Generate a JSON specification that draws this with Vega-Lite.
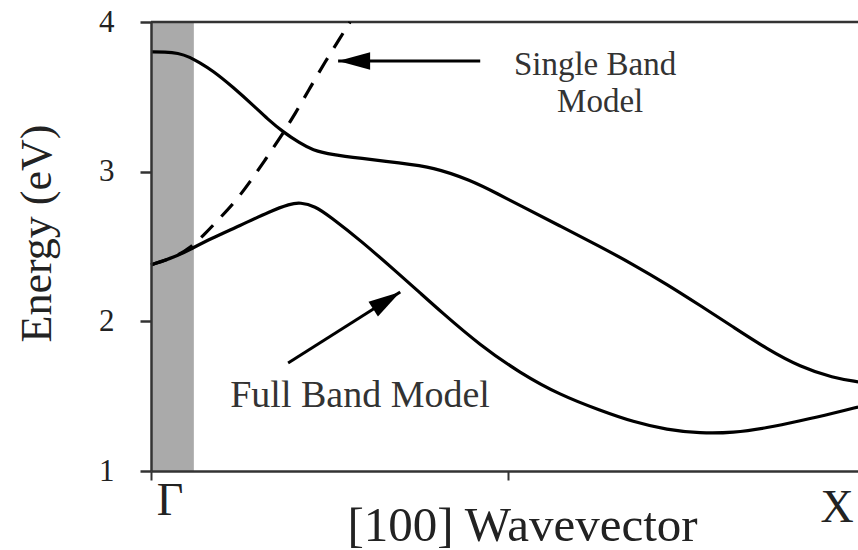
{
  "$schema": "https://vega.github.io/schema/vega-lite/v6.json",
  "width": 707,
  "height": 449,
  "autosize": {"type": "none"},
  "padding": {"left": 151, "top": 22, "right": 0, "bottom": 79},
  "background": "white",
  "config": {"view": {"stroke": null}, "font": "Liberation Serif"},
  "datasets": {
    "upper": [
      {"k": 0, "E": 3.80}, {"k": 0.0196, "E": 3.80}, {"k": 0.0378, "E": 3.793}, {"k": 0.0546, "E": 3.766},
      {"k": 0.0686, "E": 3.726}, {"k": 0.0854, "E": 3.679}, {"k": 0.1148, "E": 3.566}, {"k": 0.1457, "E": 3.432},
      {"k": 0.1625, "E": 3.355}, {"k": 0.1849, "E": 3.265}, {"k": 0.2087, "E": 3.19}, {"k": 0.2255, "E": 3.145},
      {"k": 0.2549, "E": 3.112}, {"k": 0.2927, "E": 3.09}, {"k": 0.3487, "E": 3.058}, {"k": 0.395, "E": 3.03},
      {"k": 0.4468, "E": 2.945}, {"k": 0.4888, "E": 2.844}, {"k": 0.5168, "E": 2.774}, {"k": 0.5728, "E": 2.637},
      {"k": 0.6289, "E": 2.5}, {"k": 0.6751, "E": 2.38}, {"k": 0.7227, "E": 2.247}, {"k": 0.7689, "E": 2.106},
      {"k": 0.8151, "E": 1.963}, {"k": 0.8627, "E": 1.815}, {"k": 0.909, "E": 1.696}, {"k": 0.9552, "E": 1.622},
      {"k": 0.9902, "E": 1.596}
    ],
    "lower": [
      {"k": 0, "E": 2.377}, {"k": 0.0336, "E": 2.43}, {"k": 0.0546, "E": 2.48}, {"k": 0.0826, "E": 2.55},
      {"k": 0.1246, "E": 2.64}, {"k": 0.1667, "E": 2.735}, {"k": 0.1947, "E": 2.785}, {"k": 0.2087, "E": 2.795},
      {"k": 0.2297, "E": 2.77}, {"k": 0.2507, "E": 2.7}, {"k": 0.2927, "E": 2.544}, {"k": 0.3487, "E": 2.31},
      {"k": 0.3768, "E": 2.19}, {"k": 0.4048, "E": 2.07}, {"k": 0.4608, "E": 1.84}, {"k": 0.5168, "E": 1.655},
      {"k": 0.5728, "E": 1.508}, {"k": 0.6289, "E": 1.405}, {"k": 0.6751, "E": 1.328}, {"k": 0.7227, "E": 1.275},
      {"k": 0.7689, "E": 1.252}, {"k": 0.8151, "E": 1.255}, {"k": 0.8627, "E": 1.288}, {"k": 0.909, "E": 1.335},
      {"k": 0.9552, "E": 1.385}, {"k": 0.9902, "E": 1.428}
    ],
    "single": [
      {"k": 0, "E": 2.377}, {"k": 0.0336, "E": 2.43}, {"k": 0.0546, "E": 2.49}, {"k": 0.0756, "E": 2.584},
      {"k": 0.0966, "E": 2.691}, {"k": 0.1176, "E": 2.798}, {"k": 0.1387, "E": 2.931}, {"k": 0.1597, "E": 3.078},
      {"k": 0.1807, "E": 3.225}, {"k": 0.2017, "E": 3.386}, {"k": 0.2227, "E": 3.56}, {"k": 0.2437, "E": 3.733},
      {"k": 0.2647, "E": 3.893}, {"k": 0.2787, "E": 4.0}
    ]
  },
  "layer": [
    {
      "data": {"values": [{"k0": 0, "k1": 0.06, "E0": 1, "E1": 4}]},
      "mark": {"type": "rect", "color": "#aaaaaa"},
      "encoding": {
        "x": {
          "field": "k0", "type": "quantitative",
          "scale": {"domain": [0, 0.99], "nice": false, "zero": false},
          "axis": {
            "values": [0, 0.5], "labels": false, "grid": false, "tickSize": 9, "tickWidth": 2,
            "tickColor": "#333", "domainColor": "#333", "domainWidth": 2.5, "zindex": 1,
            "title": "[100] Wavevector", "titleFont": "Liberation Serif", "titleFontSize": 49,
            "titleFontWeight": "normal", "titleColor": "#222", "titleX": 371, "titleY": 69,
            "titleBaseline": "alphabetic", "titleAlign": "center"
          }
        },
        "x2": {"field": "k1"},
        "y": {
          "field": "E0", "type": "quantitative",
          "scale": {"domain": [1, 4], "nice": false, "zero": false},
          "axis": {
            "values": [1, 2, 3, 4], "format": "d", "grid": false, "tickSize": 11, "tickWidth": 2.5, "tickColor": "#333",
            "domainColor": "#333", "domainWidth": 2.5, "zindex": 1, "labelFont": "Liberation Serif",
            "labelFontSize": 31, "labelColor": "#222", "labelPadding": 26,
            "title": "Energy (eV)", "titleFont": "Liberation Serif", "titleFontSize": 44,
            "titleFontWeight": "normal", "titleColor": "#222", "titleX": -101, "titleY": 211,
            "titleAngle": 270, "titleBaseline": "alphabetic", "titleAlign": "center"
          }
        },
        "y2": {"field": "E1"}
      }
    },
    {
      "data": {"values": [{"E": 4}]},
      "mark": {"type": "rule", "color": "#333", "strokeWidth": 2.5},
      "encoding": {"y": {"field": "E", "type": "quantitative"}}
    },
    {
      "data": {"name": "upper"},
      "mark": {"type": "line", "color": "black", "strokeWidth": 3.2, "interpolate": "basis"},
      "encoding": {"x": {"field": "k", "type": "quantitative"}, "y": {"field": "E", "type": "quantitative"}}
    },
    {
      "data": {"name": "lower"},
      "mark": {"type": "line", "color": "black", "strokeWidth": 3.2, "interpolate": "basis"},
      "encoding": {"x": {"field": "k", "type": "quantitative"}, "y": {"field": "E", "type": "quantitative"}}
    },
    {
      "data": {"name": "single"},
      "mark": {"type": "line", "color": "black", "strokeWidth": 3.2, "interpolate": "basis", "strokeDash": [17, 12]},
      "encoding": {"x": {"field": "k", "type": "quantitative"}, "y": {"field": "E", "type": "quantitative"}}
    },
    {
      "data": {"values": [
        {"k": 0.262, "E": 3.739, "k2": 0.461, "E2": 3.739},
        {"k": 0.192, "E": 1.722, "k2": 0.349, "E2": 2.196}
      ]},
      "mark": {"type": "rule", "color": "black", "strokeWidth": 3},
      "encoding": {
        "x": {"field": "k", "type": "quantitative"}, "y": {"field": "E", "type": "quantitative"},
        "x2": {"field": "k2"}, "y2": {"field": "E2"}
      }
    },
    {
      "data": {"values": [{"k": 0.262, "E": 3.739}]},
      "mark": {"type": "point", "shape": "M 0 0 L 2 -0.55 L 2 0.55 Z", "size": 1024, "filled": true, "color": "black", "opacity": 1},
      "encoding": {"x": {"field": "k", "type": "quantitative"}, "y": {"field": "E", "type": "quantitative"}}
    },
    {
      "data": {"values": [{"k": 0.349, "E": 2.196}]},
      "mark": {"type": "point", "shape": "M 0 0 L 2 -0.55 L 2 0.55 Z", "size": 1024, "filled": true, "color": "black", "opacity": 1, "angle": 147.6},
      "encoding": {"x": {"field": "k", "type": "quantitative"}, "y": {"field": "E", "type": "quantitative"}}
    },
    {
      "data": {"values": [
        {"k": 0.6218, "E": 3.646, "t": "Single Band"},
        {"k": 0.6289, "E": 3.398, "t": "Model"}
      ]},
      "mark": {"type": "text", "font": "Liberation Serif", "fontSize": 33, "color": "#333", "align": "center", "baseline": "alphabetic"},
      "encoding": {"x": {"field": "k", "type": "quantitative"}, "y": {"field": "E", "type": "quantitative"}, "text": {"field": "t"}}
    },
    {
      "data": {"values": [
        {"k": 0.2927, "E": 1.428, "t": "Full Band Model"}
      ]},
      "mark": {"type": "text", "font": "Liberation Serif", "fontSize": 38, "color": "#333", "align": "center", "baseline": "alphabetic"},
      "encoding": {"x": {"field": "k", "type": "quantitative"}, "y": {"field": "E", "type": "quantitative"}, "text": {"field": "t"}}
    },
    {
      "data": {"values": [
        {"k": 0.0266, "E": 0.707, "t": "Γ"},
        {"k": 0.9608, "E": 0.66, "t": "X"}
      ]},
      "mark": {"type": "text", "font": "Liberation Serif", "fontSize": 46, "color": "#222", "align": "center", "baseline": "alphabetic", "clip": false},
      "encoding": {"x": {"field": "k", "type": "quantitative"}, "y": {"field": "E", "type": "quantitative"}, "text": {"field": "t"}}
    }
  ]
}
